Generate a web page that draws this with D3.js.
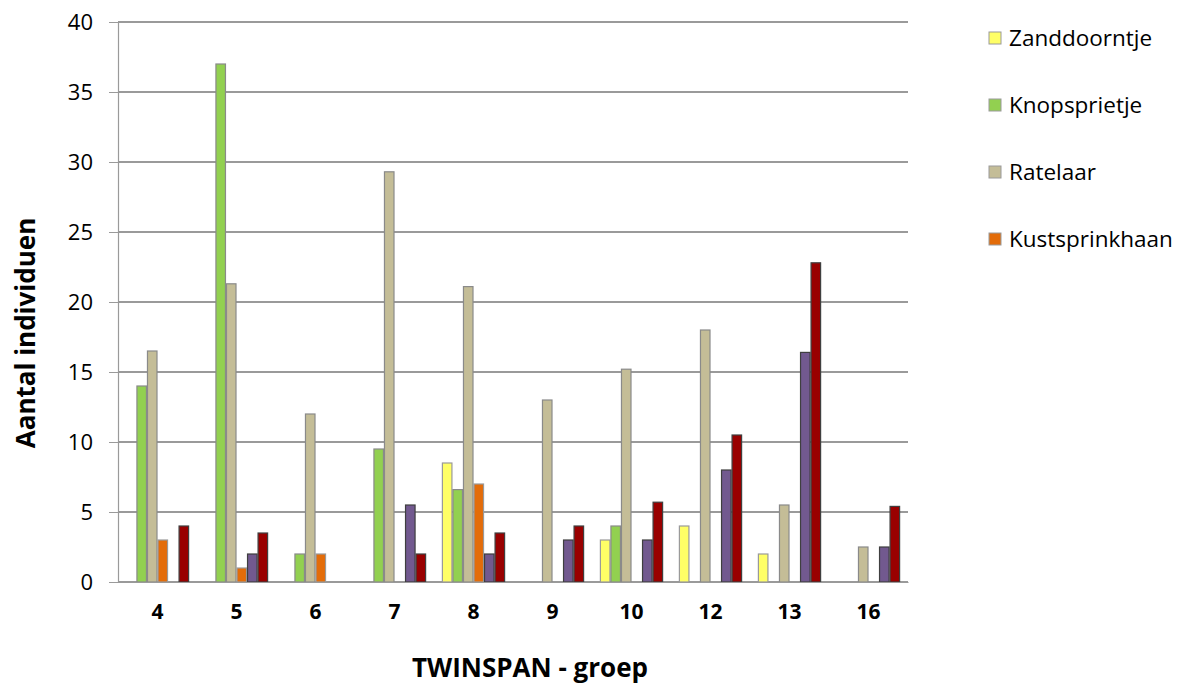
<!DOCTYPE html>
<html><head><meta charset="utf-8">
<script src="https://cdn.jsdelivr.net/npm/d3@7"></script>
<style>body{margin:0;background:#fff}svg{display:block}</style>
</head><body><svg id="c" width="1178" height="684"></svg>
<script>
const categories = ["4","5","6","7","8","9","10","12","13","16"];
const seriesNames = ["Zanddoorntje","Knopsprietje","Ratelaar","Kustsprinkhaan","Soort 5","Soort 6"];
const zanddoorntje   = [0,0,0,0,8.5,0,3,4,2,0];
const knopsprietje   = [14,37,2,9.5,6.6,0,4,0,0,0];
const ratelaar       = [16.5,21.3,12,29.3,21.1,13,15.2,18,5.5,2.5];
const kustsprinkhaan = [3,1,2,0,7,0,0,0,0,0];
const soort5         = [0,2,0,5.5,2,3,3,8,16.4,2.5];
const soort6         = [4,3.5,0,2,3.5,4,5.7,10.5,22.8,5.4];
const yTicks = [0,5,10,15,20,25,30,35,40];
const legendNames = ["Zanddoorntje","Knopsprietje","Ratelaar","Kustsprinkhaan"];

const seriesValues = [zanddoorntje,knopsprietje,ratelaar,kustsprinkhaan,soort5,soort6];
const fills = ["#FFFF66","#92D050","#C4BD97","#E36C09","#72598F","#990000"];
const strokes = ["#9a9a9a","#8a8a8a","#8a8a8a","#9a9a9a","#3f3f3f","#3f3f3f"];

const svg = d3.select("#c");
const m = {l:118, r:908, t:22, b:582};
const x = d3.scaleBand().domain(categories).range([m.l, m.r]).paddingInner(0.2).paddingOuter(0.1);
const xs = d3.scaleBand().domain(d3.range(6)).range([0, x.bandwidth()]);
const y = d3.scaleLinear().domain([0,40]).range([m.b, m.t]);
const font = "'Open Sans', sans-serif";

// gridlines
svg.append("g").selectAll("line").data(yTicks).join("line")
  .attr("x1", m.l).attr("x2", m.r).attr("y1", d=>y(d)).attr("y2", d=>y(d))
  .attr("stroke", "#9a9a9a").attr("stroke-width", 1.2).attr("shape-rendering","crispEdges");

// y axis
const ya = svg.append("g").attr("transform", `translate(${m.l},0)`)
  .call(d3.axisLeft(y).tickValues(yTicks).tickSize(9).tickPadding(16));
ya.select(".domain").attr("stroke","#9a9a9a").attr("stroke-width",1.2);
ya.selectAll(".tick line").attr("stroke","#9a9a9a");
ya.selectAll("text").attr("font-family", font).attr("font-size", 22).attr("fill","#000");

// bars
const groups = svg.append("g").selectAll("g").data(categories).join("g")
  .attr("transform", d=>`translate(${x(d)},0)`);
groups.selectAll("rect").data((c,ci)=>seriesValues.map((s,si)=>({si, v:s[ci]})).filter(d=>d.v>0))
  .join("rect")
  .attr("x", d=>xs(d.si)+0.5).attr("width", xs.bandwidth()-1)
  .attr("y", d=>y(d.v)).attr("height", d=>y(0)-y(d.v))
  .attr("fill", d=>fills[d.si]).attr("stroke", d=>strokes[d.si]).attr("stroke-width",1.2);

// x axis
const xa = svg.append("g").attr("transform", `translate(0,${m.b})`)
  .call(d3.axisBottom(x).tickSize(0).tickPadding(22));
xa.select(".domain").attr("stroke","#9a9a9a").attr("stroke-width",1.2);
xa.selectAll("text").attr("font-family", font).attr("font-size", 21).attr("font-weight","bold").attr("fill","#000");

// axis titles
svg.append("text").attr("x", 530).attr("y", 677).attr("text-anchor","middle")
  .attr("font-family", font).attr("font-size", 26).attr("font-weight","bold").text("TWINSPAN - groep");
svg.append("text").attr("transform", `translate(35,333) rotate(-90)`).attr("text-anchor","middle")
  .attr("font-family", font).attr("font-size", 26).attr("font-weight","bold").text("Aantal individuen");

// legend
const lg = svg.append("g").selectAll("g").data(legendNames).join("g")
  .attr("transform", (d,i)=>`translate(989,${38 + i*67})`);
lg.append("rect").attr("x",0).attr("y",-6).attr("width",12).attr("height",12)
  .attr("fill", (d,i)=>fills[i]).attr("stroke","#9a9a9a");
lg.append("text").attr("x",20).attr("y",0).attr("dy","0.35em")
  .attr("font-family", font).attr("font-size", 22.5).text(d=>d);
</script></body></html>
